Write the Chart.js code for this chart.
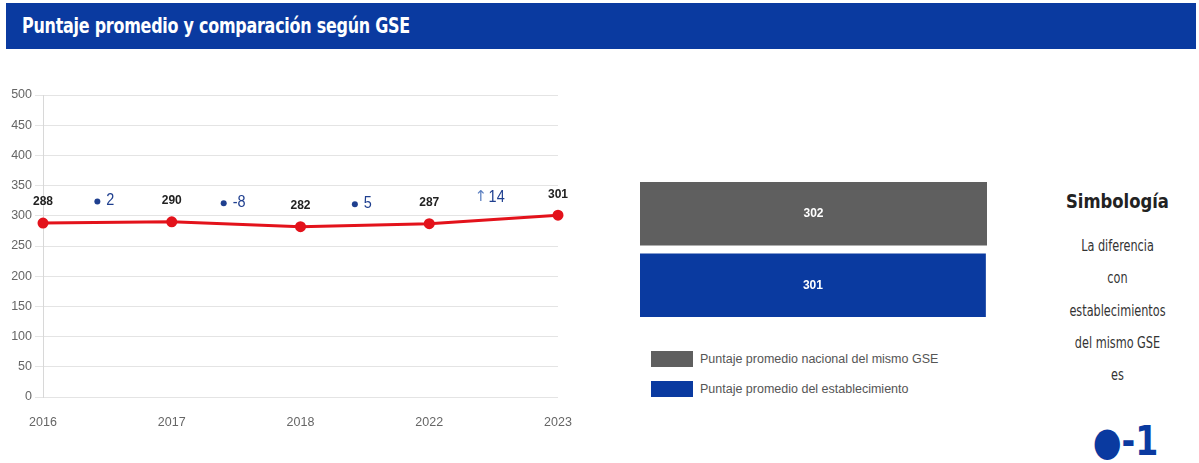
<!DOCTYPE html>
<html>
<head>
<meta charset="utf-8">
<script src="https://cdn.jsdelivr.net/npm/chart.js@4.4.1/dist/chart.umd.min.js"></script>
<style>
  body { margin: 0; background: #fff; width: 1199px; height: 463px; position: relative; overflow: hidden; font-family: "Liberation Sans", Arial, sans-serif; }
  .cond { font-family: "Liberation Sans Narrow", "DejaVu Sans Condensed", "Roboto Condensed", sans-serif; }
  #header { position: absolute; left: 6px; top: 3px; width: 1190px; height: 46px; background: #0a3aa0; }
  #header span { position: absolute; left: 16px; top: 11px; color: #fff; font-weight: bold; font-size: 21px; letter-spacing: -0.3px; transform: scaleX(0.845); transform-origin: left center; white-space: nowrap; }
  #lineWrap { position: absolute; left: 0; top: 80px; width: 590px; height: 350px; }
  #barWrap { position: absolute; left: 640px; top: 178px; width: 347px; height: 143px; }
  .leg { position: absolute; left: 651px; font-size: 12.5px; color: #555; }
  .leg i { position: absolute; left: 0; top: 0; width: 42px; height: 16px; }
  .leg span { position: absolute; left: 49px; top: 0; white-space: nowrap; line-height: 16px; }
  #simb { position: absolute; left: 1040px; top: 190px; width: 155px; text-align: center; color: #333; }
  #simb .t { font-weight: bold; font-size: 19px; color: #222; height: 40px; transform: scaleX(0.96); }
  #simb .l { font-size: 16.5px; line-height: 32.3px; transform: scaleX(0.76); }
  #dif { position: absolute; left: 1048px; top: 417px; width: 155px; text-align: center; color: #0a3aa0; font-size: 40px; font-weight: bold; line-height: 48px; transform: scaleX(0.92); }
</style>
</head>
<body>
<div id="header"><span class="cond">Puntaje promedio y comparación según GSE</span></div>
<div id="lineWrap"><canvas id="lineChart"></canvas></div>
<div id="barWrap"><canvas id="barChart"></canvas></div>
<div class="leg" style="top:351px"><i style="background:#5f5f5f"></i><span>Puntaje promedio nacional del mismo GSE</span></div>
<div class="leg" style="top:381px"><i style="background:#0a3aa0"></i><span>Puntaje promedio del establecimiento</span></div>
<div id="simb" class="cond">
  <div class="t">Simbología</div>
  <div class="l">La diferencia<br>con<br>establecimientos<br>del mismo GSE<br>es</div>
</div>
<div id="dif" class="cond"></div>
<script>
// datos del gráfico de evolución
const anios = ['2016', '2017', '2018', '2022', '2023'];
const puntajes = [288, 290, 282, 287, 301];
const diferencias = [2, -8, 5, 14];
const simbolos = ['●', '●', '●', '↑'];

// comparación con el mismo GSE
const barLabels = ['Puntaje promedio nacional del mismo GSE', 'Puntaje promedio del establecimiento'];
const barValues = [302, 301];
const diferenciaGSE = -1;

document.getElementById('dif').textContent = '●' + (diferenciaGSE < 0 ? '-' : '+') + Math.abs(diferenciaGSE);

// etiquetas de valores y diferencias sobre la línea
const etiquetasLinea = {
    id: 'etiquetasLinea',
    afterDatasetsDraw(chart) {
        const ctx = chart.ctx;
        const pts = chart.getDatasetMeta(0).data;
        ctx.save();
        ctx.textAlign = 'center';
        ctx.textBaseline = 'middle';
        ctx.fillStyle = '#222';
        ctx.font = 'bold 12px "Liberation Sans", Arial, sans-serif';
        pts.forEach((p, i) => ctx.fillText(puntajes[i], p.x, p.y - 21));

        diferencias.forEach((d, i) => {
            const x = (pts[i].x + pts[i + 1].x) / 2;
            const y = (pts[i].y + pts[i + 1].y) / 2 - 22;
            const txt = String(d);
            ctx.font = '17px "Liberation Sans", sans-serif';
            const w = ctx.measureText(txt).width * 0.85;
            ctx.textAlign = 'left';
            if (simbolos[i] === '↑') {
                ctx.fillStyle = '#5b7fc0';
                ctx.font = '15px "DejaVu Sans", sans-serif';
                ctx.fillText('↑', x - w / 2 - 11, y);
            } else {
                ctx.fillStyle = '#1f3f8f';
                ctx.beginPath();
                ctx.arc(x - w / 2 - 6, y + 1, 3, 0, Math.PI * 2);
                ctx.fill();
            }
            ctx.fillStyle = '#1f3f8f';
            ctx.font = '17px "Liberation Sans", sans-serif';
            ctx.save();
            ctx.translate(x - w / 2 + 3, y);
            ctx.scale(0.85, 1);
            ctx.fillText(txt, 0, 0);
            ctx.restore();
            ctx.textAlign = 'center';
        });
        ctx.restore();
    }
};

new Chart(document.getElementById('lineChart'), {
    type: 'line',
    data: {
        labels: anios,
        datasets: [{
            data: puntajes,
            borderColor: '#e3121b',
            backgroundColor: '#e3121b',
            borderWidth: 3,
            pointRadius: 4,
            tension: 0
        }]
    },
    options: {
        responsive: true,
        maintainAspectRatio: false,
        animation: false,
        layout: { padding: { top: 15, right: 32, bottom: 3, left: 0 } },
        plugins: { legend: { display: false }, tooltip: { enabled: false } },
        scales: {
            x: {
                grid: { display: false },
                border: { display: false },
                ticks: { color: '#666', font: { size: 12.5 }, padding: 10, maxRotation: 0 },
                afterFit: s => { s.height = 30; }
            },
            y: {
                min: 0, max: 500,
                ticks: { stepSize: 50, color: '#666', font: { size: 12.5 } },
                grid: { color: '#e4e4e4', tickLength: 8 },
                border: { color: '#d8d8d8' },
                afterFit: s => { s.width = 43; }
            }
        }
    },
    plugins: [etiquetasLinea]
});

// valores dentro de las barras
const etiquetasBarra = {
    id: 'etiquetasBarra',
    afterDatasetsDraw(chart) {
        const ctx = chart.ctx;
        ctx.save();
        ctx.fillStyle = '#fff';
        ctx.font = 'bold 12px "Liberation Sans", Arial, sans-serif';
        ctx.textAlign = 'center';
        ctx.textBaseline = 'middle';
        chart.getDatasetMeta(0).data.forEach((b, i) => {
            ctx.fillText(barValues[i], (b.base + b.x) / 2, b.y);
        });
        ctx.restore();
    }
};

new Chart(document.getElementById('barChart'), {
    type: 'bar',
    data: {
        labels: barLabels,
        datasets: [{
            data: barValues,
            backgroundColor: ['#5f5f5f', '#0a3aa0'],
            borderWidth: 0,
            barPercentage: 0.888,
            categoryPercentage: 1
        }]
    },
    options: {
        indexAxis: 'y',
        responsive: true,
        maintainAspectRatio: false,
        animation: false,
        layout: { padding: 0 },
        plugins: { legend: { display: false }, tooltip: { enabled: false } },
        scales: {
            x: { display: false, min: 0, max: 302 },
            y: { display: false }
        }
    },
    plugins: [etiquetasBarra]
});
</script>
</body>
</html>
